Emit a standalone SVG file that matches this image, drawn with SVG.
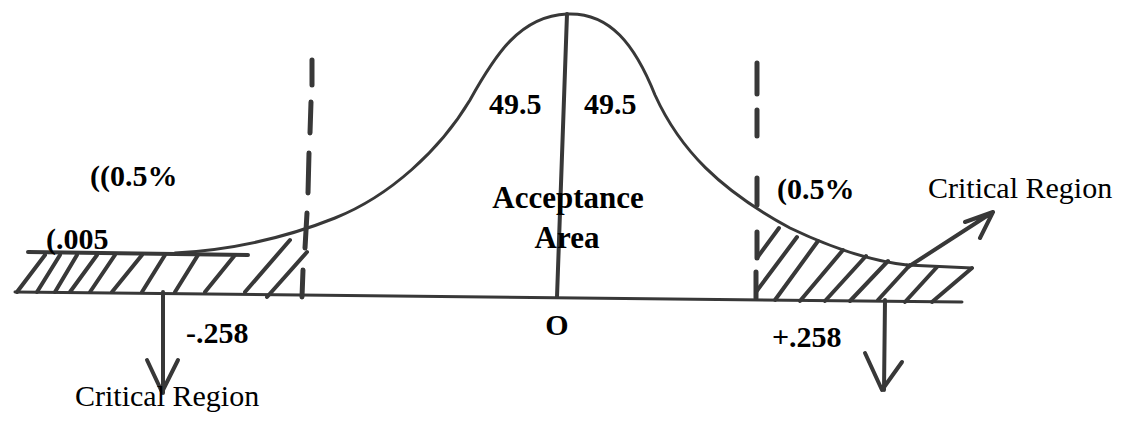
<svg xmlns="http://www.w3.org/2000/svg" width="1129" height="424" viewBox="0 0 1129 424">
<style>
.ln{stroke:#383838;fill:none;stroke-linecap:round;stroke-linejoin:round}
.c{stroke-width:3}
.h{stroke-width:4}
.d{stroke-width:5}
.b{font-family:"Liberation Serif",serif;font-weight:bold;font-size:30px;fill:#000}
.r{font-family:"Liberation Serif",serif;font-size:30px;fill:#000}
</style>
<rect width="1129" height="424" fill="#fff"/>
<g id="axis">
<path class="ln c" d="M15,292 L962,302"/>
<path class="ln h" d="M567,14 L557,297"/>
</g>
<g id="curve">
<path class="ln c" d="M175,253 C230,250 285,238 335,218 C390,196 440,150 470,100 C495,55 520,16 567,14 C610,12 635,45 655,95 C680,150 720,190 790,228 C840,252 880,262 907,265"/>
</g>
<g id="dashed-left">
<path class="ln d" d="M312,60 L312,85 M311,102 L310,133 M309,153 L308,193 M307,213 L305,248 M303,270 L302,297"/>
</g>
<g id="dashed-right">
<path class="ln d" d="M757,63 L757,94 M757,110 L757,136 M757,178 L757,205 M757,232 L757,258 M756,272 L756,298"/>
</g>
<g id="hatch-left">
<path class="ln h" d="M28,252 L248,255"/>
<path class="ln h" d="M17,292 L45,255 M37,292 L60,255 M55,292 L77,255 M70,292 L97,255 M90,292 L115,255 M112,292 L142,255 M142,292 L165,255 M175,292 L198,255 M205,292 L235,255 M245,292 L290,240 M267,297 L307,252"/>
</g>
<g id="hatch-right">
<path class="ln c" d="M907,265 L972,268"/>
<path class="ln h" d="M757,258 L779,228 M756,292 L797,237 M775,300 L818,241 M800,301 L843,250 M825,301 L866,256 M850,301 L888,261 M878,300 L910,265 M905,302 L937,267 M932,302 L972,268"/>
</g>
<g id="connectors">
<path class="ln h" d="M163,292 L163,393 M147,360 L162,392 L178,360"/>
<path class="ln h" d="M885,300 L884,390 M865,353 L882,390 L902,362"/>
<path class="ln h" d="M908,267 L993,212 M965,222 L993,212 L980,238"/>
</g>
<g id="labels">
<text class="b" x="489" y="114">49.5</text>
<text class="b" x="584" y="114">49.5</text>
<text class="b" x="90" y="186">((0.5%</text>
<text class="b" x="46" y="249">(.005</text>
<text class="b" x="777" y="199">(0.5%</text>
<text class="b" x="568" y="208" text-anchor="middle" style="font-size:31px">Acceptance</text>
<text class="b" x="567" y="248" text-anchor="middle" style="font-size:31px">Area</text>
<text class="b" x="557" y="335" text-anchor="middle">O</text>
<text class="b" x="186" y="343">-.258</text>
<text class="b" x="772" y="347">+.258</text>
<text class="r" x="928" y="198">Critical Region</text>
<text class="r" x="75" y="406">Critical Region</text>
</g>
</svg>
